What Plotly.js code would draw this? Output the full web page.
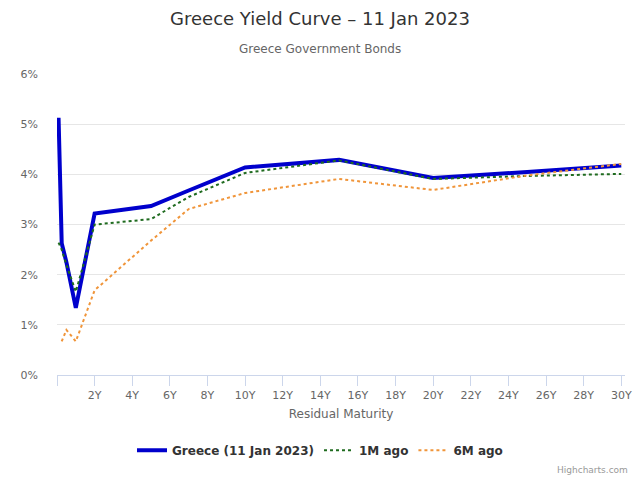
<!DOCTYPE html>
<html>
<head>
<meta charset="utf-8">
<script src="https://cdn.plot.ly/plotly-3.0.1.min.js"></script>
<style>html,body{margin:0;padding:0;background:#fff;}#chart{width:640px;height:480px;}</style>
</head>
<body>
<div id="chart"></div>
<script>
// Maturities (years) and labels
const maturityLabels = ['1M','3M','6M','1Y','2Y','5Y','7Y','10Y','15Y','20Y','25Y','30Y'];
const maturityYears  = [0.083, 0.25, 0.5, 1, 2, 5, 7, 10, 15, 20, 25, 30];

// Yields (%)
const greeceNow = [5.13, 2.63, 2.25, 1.34, 3.22, 3.37, 3.68, 4.14, 4.29, 3.93, 4.05, 4.18];
const oneMonthAgo = [2.64, 2.50, 2.20, 1.66, 3.00, 3.11, 3.55, 4.03, 4.28, 3.91, 3.97, 4.01];
const sixMonthsAgo = [null, 0.67, 0.90, 0.67, 1.69, 2.68, 3.31, 3.63, 3.91, 3.69, 3.98, 4.21];

// Axis ticks
const xTickVals = [0,2,4,6,8,10,12,14,16,18,20,22,24,26,28,30];
const xTickText = ['','2Y','4Y','6Y','8Y','10Y','12Y','14Y','16Y','18Y','20Y','22Y','24Y','26Y','28Y','30Y'];
const yTickVals = [0,1,2,3,4,5,6];
const yTickText = ['0%','1%','2%','3%','4%','5%','6%'];

const FONT = 'DejaVu Sans, Verdana, sans-serif';

const traces = [
  {x: maturityYears, y: greeceNow, name: 'Greece (11 Jan 2023)', mode: 'lines',
   text: maturityLabels, line: {color: '#0000cc', width: 4}},
  {x: maturityYears, y: oneMonthAgo, name: '1M ago', mode: 'lines',
   text: maturityLabels, line: {color: '#1f6b1f', width: 2, dash: 'dot'}},
  {x: maturityYears, y: sixMonthsAgo, name: '6M ago', mode: 'lines',
   text: maturityLabels, line: {color: '#f0953a', width: 2, dash: 'dot'}, connectgaps: false}
];

const layout = {
  width: 640, height: 480,
  margin: {l: 57, r: 15, t: 74, b: 105},
  paper_bgcolor: '#ffffff', plot_bgcolor: '#ffffff',
  font: {family: FONT, color: '#666666', size: 11},
  title: {text: 'Greece Yield Curve – 11 Jan 2023', font: {family: FONT, size: 18, color: '#333333'},
          x: 0.5, xanchor: 'center', xref: 'container', y: 1 - 19/480, yanchor: 'middle'},
  annotations: [
    {text: 'Greece Government Bonds', xref: 'paper', yref: 'paper', x: (320-57)/568, y: 1 + (75-50)/300,
     xanchor: 'center', yanchor: 'middle', showarrow: false, font: {family: FONT, size: 12, color: '#666666'}},
    {text: 'Highcharts.com', xref: 'paper', yref: 'paper', x: 1 + 5/568, y: -(470-375)/300,
     xanchor: 'right', yanchor: 'middle', showarrow: false, font: {family: FONT, size: 9, color: '#999999'}}
  ],
  xaxis: {
    range: [0, 30.2], tickmode: 'array', tickvals: xTickVals, ticktext: xTickText,
    showgrid: false, zeroline: false, showline: true, linecolor: '#ccd6eb', linewidth: 1,
    ticks: 'outside', ticklen: 10, tickcolor: '#ccd6eb', tickwidth: 1,
    tickfont: {family: FONT, size: 11, color: '#666666'},
    title: {text: 'Residual Maturity', font: {family: FONT, size: 12, color: '#666666'}, standoff: 8}
  },
  yaxis: {
    range: [0, 6.003], tickmode: 'array', tickvals: yTickVals, ticktext: yTickText,
    showgrid: true, gridcolor: '#e6e6e6', gridwidth: 1, zeroline: false, showline: false,
    ticks: '', tickfont: {family: FONT, size: 11, color: '#666666'}, ticklabelstandoff: 18
  },
  showlegend: true,
  legend: {orientation: 'h', x: (320-57)/568, xanchor: 'center', y: -(450-375)/300, yanchor: 'middle',
           font: {family: FONT, size: 12, color: '#333333', weight: 'bold'}, itemwidth: 30},
  hovermode: false
};

Plotly.newPlot('chart', traces, layout, {displayModeBar: false, staticPlot: true});
</script>
</body>
</html>
